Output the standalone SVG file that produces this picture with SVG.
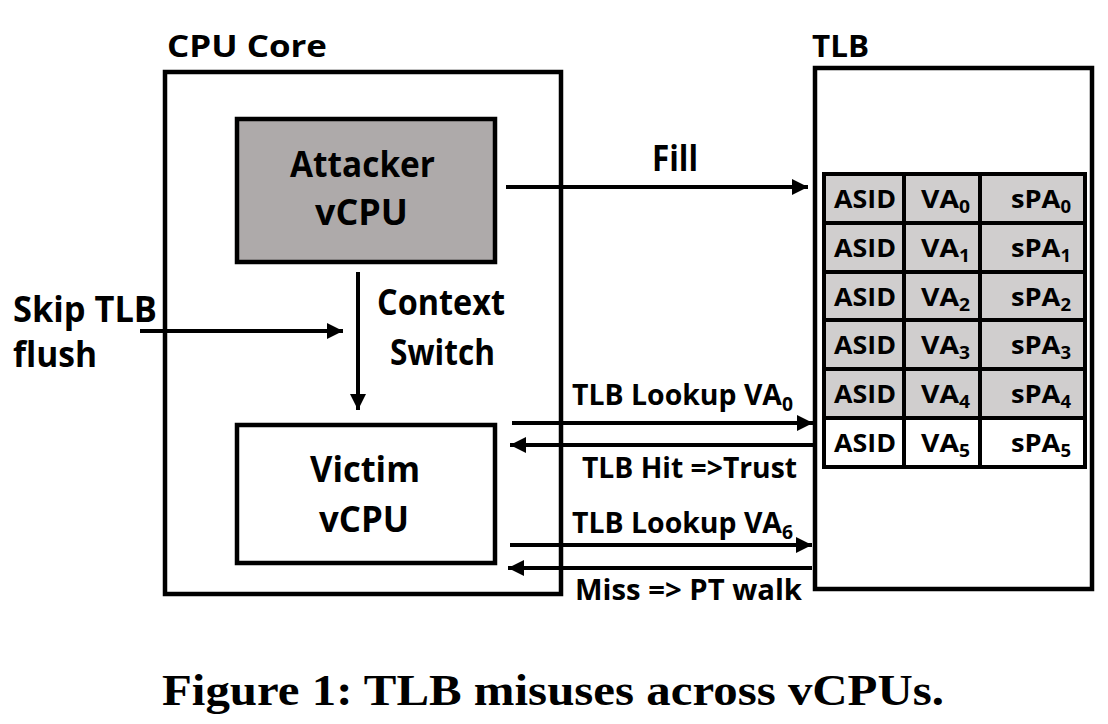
<svg xmlns="http://www.w3.org/2000/svg" width="1108" height="724" viewBox="0 0 1108 724">
<style>
.box{fill:none;stroke:#000;stroke-width:4.5}
.t{font-family:"Open Sans","Liberation Sans",sans-serif;font-weight:bold;fill:#000}
.big{font-size:35px}
.mid{font-size:28px}
.sm{font-size:25px}
.sub{font-size:17px}
.subm{font-size:19px}
.cap{font-family:"Liberation Serif",serif;font-weight:bold;font-size:44px;fill:#000}
.ln{stroke:#000;stroke-width:4;fill:none}
</style>
<defs>
<marker id="ah" markerUnits="userSpaceOnUse" markerWidth="18" markerHeight="16" refX="16" refY="8" orient="auto">
<path d="M0,0 L16,8 L0,16 Z" fill="#000"/>
</marker>
</defs>
<rect width="1108" height="724" fill="#fff"/>
<g id="cpu-core">
<rect class="box" x="165" y="72" width="396" height="522"/>
<text class="t" x="167" y="57" font-size="31" textLength="160" lengthAdjust="spacingAndGlyphs">CPU Core</text>
</g>
<g id="attacker">
<rect x="237" y="119" width="258" height="143" fill="#AEAAAA" stroke="#000" stroke-width="4.5"/>
<text class="t big" x="290" y="177" textLength="145" lengthAdjust="spacingAndGlyphs">Attacker</text>
<text class="t big" x="315" y="225" textLength="93" lengthAdjust="spacingAndGlyphs">vCPU</text>
</g>
<g id="victim">
<rect class="box" x="237" y="425" width="258" height="138" fill="#fff"/>
<text class="t big" x="310" y="482" textLength="110" lengthAdjust="spacingAndGlyphs">Victim</text>
<text class="t big" x="319" y="532" textLength="90" lengthAdjust="spacingAndGlyphs">vCPU</text>
</g>
<g id="tlb">
<rect class="box" x="815" y="68" width="277" height="521"/>
<text class="t" x="812" y="57" font-size="31" textLength="57" lengthAdjust="spacingAndGlyphs">TLB</text>
<g id="tlb-table">
<rect x="824" y="174" width="261" height="244" fill="#D0CECE"/>
<rect x="824" y="418" width="261" height="49" fill="#fff"/>
<g class="ln" stroke-width="5">
<rect x="824" y="174" width="261" height="293"/>
<line x1="824" y1="223" x2="1085" y2="223"/>
<line x1="824" y1="272" x2="1085" y2="272"/>
<line x1="824" y1="320" x2="1085" y2="320"/>
<line x1="824" y1="369" x2="1085" y2="369"/>
<line x1="824" y1="418" x2="1085" y2="418"/>
<line x1="904" y1="174" x2="904" y2="467"/>
<line x1="980" y1="174" x2="980" y2="467"/>
</g>
<g class="t sm">
<text x="834" y="208" textLength="62" lengthAdjust="spacingAndGlyphs">ASID</text>
<text x="834" y="257" textLength="62" lengthAdjust="spacingAndGlyphs">ASID</text>
<text x="834" y="306" textLength="62" lengthAdjust="spacingAndGlyphs">ASID</text>
<text x="834" y="354" textLength="62" lengthAdjust="spacingAndGlyphs">ASID</text>
<text x="834" y="403" textLength="62" lengthAdjust="spacingAndGlyphs">ASID</text>
<text x="834" y="452" textLength="62" lengthAdjust="spacingAndGlyphs">ASID</text>
<text x="921" y="208" textLength="49" lengthAdjust="spacingAndGlyphs">VA<tspan class="sub" dy="5">0</tspan></text>
<text x="921" y="257" textLength="49" lengthAdjust="spacingAndGlyphs">VA<tspan class="sub" dy="5">1</tspan></text>
<text x="921" y="306" textLength="49" lengthAdjust="spacingAndGlyphs">VA<tspan class="sub" dy="5">2</tspan></text>
<text x="921" y="354" textLength="49" lengthAdjust="spacingAndGlyphs">VA<tspan class="sub" dy="5">3</tspan></text>
<text x="921" y="403" textLength="49" lengthAdjust="spacingAndGlyphs">VA<tspan class="sub" dy="5">4</tspan></text>
<text x="921" y="452" textLength="49" lengthAdjust="spacingAndGlyphs">VA<tspan class="sub" dy="5">5</tspan></text>
<text x="1011" y="208" textLength="60" lengthAdjust="spacingAndGlyphs">sPA<tspan class="sub" dy="5">0</tspan></text>
<text x="1011" y="257" textLength="60" lengthAdjust="spacingAndGlyphs">sPA<tspan class="sub" dy="5">1</tspan></text>
<text x="1011" y="306" textLength="60" lengthAdjust="spacingAndGlyphs">sPA<tspan class="sub" dy="5">2</tspan></text>
<text x="1011" y="354" textLength="60" lengthAdjust="spacingAndGlyphs">sPA<tspan class="sub" dy="5">3</tspan></text>
<text x="1011" y="403" textLength="60" lengthAdjust="spacingAndGlyphs">sPA<tspan class="sub" dy="5">4</tspan></text>
<text x="1011" y="452" textLength="60" lengthAdjust="spacingAndGlyphs">sPA<tspan class="sub" dy="5">5</tspan></text>
</g>
</g>
</g>
<g id="connectors">
<line class="ln" x1="506" y1="187" x2="808" y2="187" marker-end="url(#ah)"/>
<line class="ln" x1="140" y1="331" x2="343" y2="331" marker-end="url(#ah)"/>
<line class="ln" x1="358" y1="272" x2="358" y2="410" marker-end="url(#ah)"/>
<line class="ln" x1="512" y1="423" x2="813" y2="423" marker-end="url(#ah)"/>
<line class="ln" x1="813" y1="445" x2="510" y2="445" marker-end="url(#ah)"/>
<line class="ln" x1="510" y1="545" x2="812" y2="545" marker-end="url(#ah)"/>
<line class="ln" x1="812" y1="568" x2="508" y2="568" marker-end="url(#ah)"/>
</g>
<g id="labels">
<text class="t big" x="652" y="171" textLength="46" lengthAdjust="spacingAndGlyphs">Fill</text>
<text class="t big" x="13" y="322" textLength="144" lengthAdjust="spacingAndGlyphs">Skip TLB</text>
<text class="t big" x="13" y="367" textLength="84" lengthAdjust="spacingAndGlyphs">flush</text>
<text class="t big" x="377" y="315" textLength="128" lengthAdjust="spacingAndGlyphs">Context</text>
<text class="t big" x="390" y="365" textLength="105" lengthAdjust="spacingAndGlyphs">Switch</text>
<text class="t mid" x="572" y="405" textLength="221" lengthAdjust="spacingAndGlyphs">TLB Lookup VA<tspan class="subm" dy="6">0</tspan></text>
<text class="t mid" x="582" y="478" textLength="215" lengthAdjust="spacingAndGlyphs">TLB Hit =&gt;Trust</text>
<text class="t mid" x="572" y="533" textLength="221" lengthAdjust="spacingAndGlyphs">TLB Lookup VA<tspan class="subm" dy="6">6</tspan></text>
<text class="t mid" x="575" y="600" textLength="227" lengthAdjust="spacingAndGlyphs">Miss =&gt; PT walk</text>
</g>
<text class="cap" x="162" y="705" textLength="782" lengthAdjust="spacingAndGlyphs">Figure 1: TLB misuses across vCPUs.</text>
</svg>
